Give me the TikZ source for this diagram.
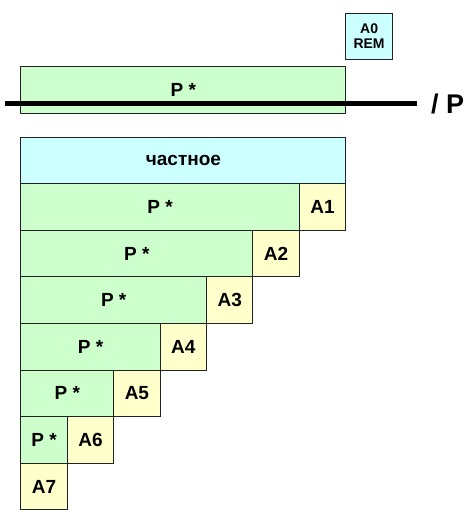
\documentclass[tikz,border=0pt]{standalone}
\usepackage{fontspec}
\setmainfont{Liberation Sans}
\definecolor{cgreen}{HTML}{CCFFCC}
\definecolor{ccyan}{HTML}{CCFFFF}
\definecolor{cyell}{HTML}{FFFFCC}
\definecolor{cedge}{HTML}{222222}
\begin{document}
\begin{tikzpicture}[x=1pt,y=-1pt,
  box/.style={draw=cedge, line width=1pt, inner sep=0pt, anchor=north west,
    font=\fontsize{19}{21}\selectfont\bfseries, minimum height=46.6pt},
  pbox/.style={box, fill=cgreen},
  abox/.style={box, fill=cyell, minimum width=46.4pt},
  qbox/.style={box, fill=ccyan},
  rembox/.style={box, fill=ccyan, minimum width=46.4pt, minimum height=46.4pt,
    font=\fontsize{14}{15.5}\selectfont\bfseries, align=center},
  divline/.style={line width=5pt, black}
]
\useasboundingbox (0,0) rectangle (475,523);
% remainder
\node[rembox] (rem) at (345.4,12.5) {A0\\REM};
% dividend
\node[pbox, minimum width=325pt, minimum height=46.8pt] (top) at (20.4,66.3) {P *};
\coordinate (l1) at (5,103);
\coordinate (l2) at (417,103);
\draw[divline] (l1) -- (l2);
\node[font=\fontsize{27}{29}\selectfont\bfseries, anchor=base west, inner sep=0pt] (div) at (431,113) {/ P};
% quotient
\node[qbox, minimum width=325pt] (q) at (20.4,136.6) {частное};
% rows
\node[pbox, minimum width=278.5pt] (p1) at (20.4,183.2) {P *};
\node[abox] (a1) at (298.9,183.2) {A1};
\node[pbox, minimum width=232pt] (p2) at (20.4,229.8) {P *};
\node[abox] (a2) at (252.4,229.8) {A2};
\node[pbox, minimum width=185.6pt] (p3) at (20.4,276.4) {P *};
\node[abox] (a3) at (206,276.4) {A3};
\node[pbox, minimum width=139.2pt] (p4) at (20.4,323) {P *};
\node[abox] (a4) at (159.6,323) {A4};
\node[pbox, minimum width=92.8pt] (p5) at (20.4,369.6) {P *};
\node[abox] (a5) at (113.2,369.6) {A5};
\node[pbox, minimum width=46.4pt] (p6) at (20.4,416.2) {P *};
\node[abox] (a6) at (66.8,416.2) {A6};
\node[abox] (a7) at (20.4,462.8) {A7};
\end{tikzpicture}
\end{document}
